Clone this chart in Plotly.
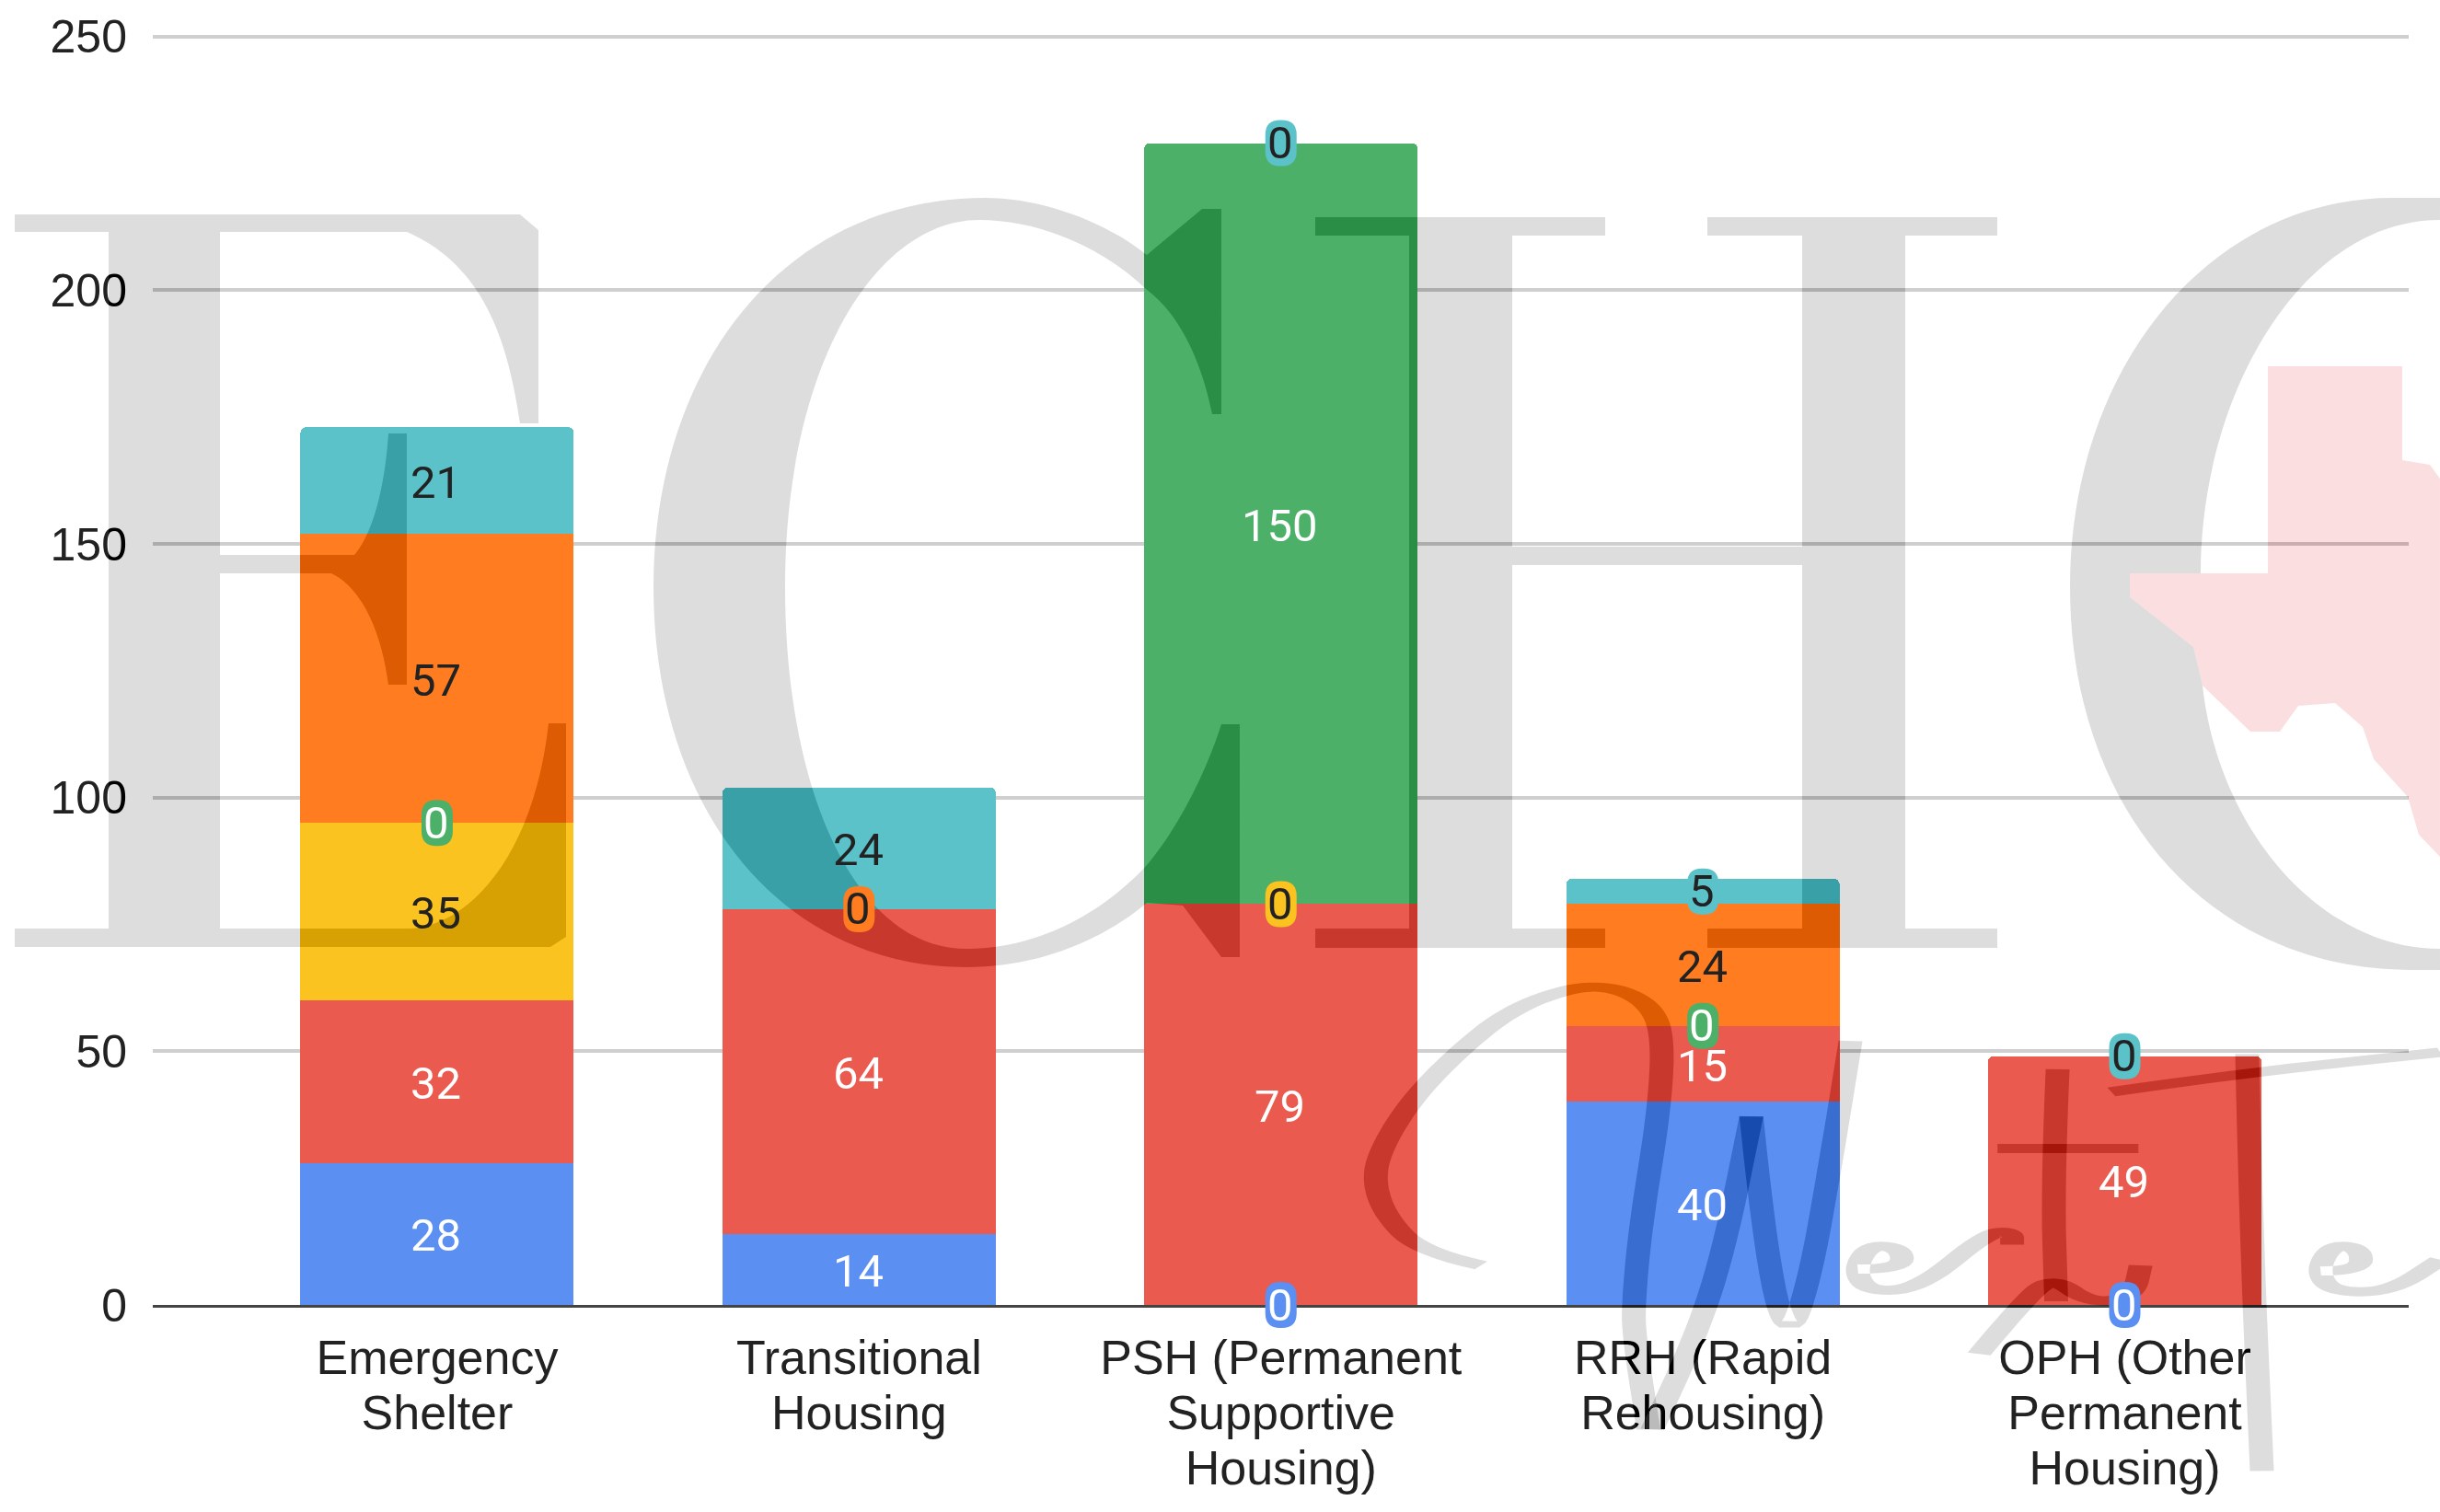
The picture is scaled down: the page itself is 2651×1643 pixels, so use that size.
import math
import re
import plotly.graph_objects as go

categories = ["Emergency<br>Shelter", "Transitional<br>Housing", "PSH (Permanent<br>Supportive<br>Housing)",
              "RRH (Rapid<br>Rehousing)", "OPH (Other<br>Permanent<br>Housing)"]
series_a = [28, 14, 0, 40, 0]
series_b = [32, 64, 79, 15, 49]
series_c = [35, 0, 0, 0, 0]
series_d = [0, 0, 150, 0, 0]
series_e = [57, 0, 0, 24, 0]
series_f = [21, 24, 0, 5, 0]
series_values = [series_a, series_b, series_c, series_d, series_e, series_f]
series_names = ["Series A", "Series B", "Series C", "Series D", "Series E", "Series F"]
series_colors = ["#5B8FF2", "#EA5A4E", "#FAC31F", "#4DB069", "#FF7D20", "#5CC2CA"]
label_colors = ["#FFFFFF", "#FFFFFF", "#222222", "#FFFFFF", "#222222", "#222222"]
y_ticks = [0, 50, 100, 150, 200, 250]

Y_RANGE = [0, 250.5]
X_RANGE = [-0.674, 4.673]
W, H = 2651, 1643
L, R, T, B = 166, 2617, 37, 1418
INK = "rgb(34,34,34)"
PINK = "rgb(4,32,31)"
TICK_SIZE = 52
LINE_SIZE = 46


def px(x, y):
    return (x - L) / (R - L), (B - y) / (B - T)


def to_paper(path):
    """Watermark outlines are traced in page pixels; shapes want paper fractions."""
    out = []
    for part in re.findall(r"[MLCQZ]|-?[\d.]+,-?[\d.]+", path):
        if "," in part:
            a, b = part.split(",")
            u, v = px(float(a), float(b))
            out.append(f"{u:.5f},{v:.5f}")
        else:
            out.append(part)
    return " ".join(out)


def z4(x, y):
    return x / 1.253 + 1400, y / 2.44 + 1000


def brush(points, a=13.0, b=5.0):
    """Stretched-script stroke: elliptical nib, wide across verticals and thin across horizontals."""
    pts = [z4(*p) for p in points]
    samples = [pts[0]]
    for i in range(1, len(pts) - 1):
        p0 = samples[-1]
        c = pts[i]
        e = ((pts[i][0] + pts[i + 1][0]) / 2, (pts[i][1] + pts[i + 1][1]) / 2)
        for k in range(1, 9):
            t = k / 8
            samples.append(((1 - t) ** 2 * p0[0] + 2 * t * (1 - t) * c[0] + t ** 2 * e[0],
                            (1 - t) ** 2 * p0[1] + 2 * t * (1 - t) * c[1] + t ** 2 * e[1]))
    samples.append(pts[-1])
    left, right = [], []
    for i, (x, y) in enumerate(samples):
        x0, y0 = samples[max(i - 1, 0)]
        x1, y1 = samples[min(i + 1, len(samples) - 1)]
        dx, dy = x1 - x0, y1 - y0
        n = math.hypot(dx, dy) or 1
        nx, ny = -dy / n, dx / n
        s = math.sqrt((a * nx) ** 2 + (b * ny) ** 2) or 1
        ox, oy = a * a * nx / s, b * b * ny / s
        left.append((x + ox, y + oy))
        right.append((x - ox, y - oy))
    ring = left + right[::-1]
    return "M" + " L".join(f"{x:.1f},{y:.1f}" for x, y in ring) + " Z"


letter_e = ("M16,233 L565,233 L585,250 L585,460 L565,460 C553,380 530,290 442,252 L239,252 L239,603 L385,603 "
            "C405,580 418,530 422,471 L442,471 L442,744 L422,744 C415,690 395,640 360,623 L239,623 L239,1009 "
            "L446,1009 C510,1005 580,930 596,786 L615,786 L615,1018 L598,1029 L16,1029 L16,1009 L118,1009 "
            "L118,252 L16,252 Z")
letter_c = ("M1327,227 L1327,450 L1317,450 C1305,390 1280,340 1246,315 C1200,270 1130,239 1064,239 "
            "C950,239 853,400 853,638 C853,860 930,1031 1050,1031 C1130,1031 1200,990 1246,940 "
            "C1280,900 1310,840 1327,787 L1347,787 L1347,1040 L1327,1040 L1285,984 L1246,981 "
            "C1200,1020 1130,1051 1050,1051 C850,1051 710,880 710,638 C710,400 850,215 1071,215 "
            "C1130,215 1200,240 1246,277 L1306,227 Z")
letter_h = ("M1429,236 L1744,236 L1744,256 L1643,256 L1643,594 L1958,594 L1958,256 L1855,256 L1855,236 "
            "L2170,236 L2170,256 L2070,256 L2070,1009 L2170,1009 L2170,1030 L1855,1030 L1855,1009 L1958,1009 "
            "L1958,614 L1643,614 L1643,1009 L1744,1009 L1744,1030 L1429,1030 L1429,1009 L1531,1009 L1531,256 "
            "L1429,256 Z")
letter_o = ("M2651,215 L2600,215 C2400,215 2249,400 2249,638 C2249,880 2400,1054 2620,1054 L2651,1054 "
            "L2651,1031 C2520,1031 2410,900 2393,745 L2383,703 L2314,649 L2314,623 L2391,623 "
            "C2391,430 2500,239 2651,239 Z")
texas = ("M2464,398 L2610,398 L2610,500 L2640,505 L2651,520 L2651,931 L2628,907 L2616,866 L2579,825 L2567,790 "
         "L2537,764 L2497,767 L2477,795 L2445,795 L2393,745 L2383,703 L2314,649 L2314,623 L2464,623 Z")

script_strokes = [
    [(262, 915), (180, 880), (130, 780), (115, 680), (130, 590), (170, 470), (230, 350), (300, 240), (380, 180),
     (440, 175), (490, 220), (510, 300), (505, 500), (480, 800), (470, 1000), (470, 1100), (490, 1350)],
    [(495, 1350), (545, 1150), (590, 900), (630, 520)],
    [(630, 520), (650, 900), (680, 1120), (710, 950), (740, 620), (765, 320)],
    [(775, 925), (835, 925), (835, 870), (790, 860), (770, 930), (790, 985), (860, 975), (950, 830), (985, 825),
     (985, 860)],
    [(1047, 395), (1040, 700), (1045, 1010)],
    [(965, 605), (1157, 605)],
    [(940, 1150), (1000, 1010), (1040, 945), (1090, 1015), (1150, 1000), (1160, 915)],
    [(1120, 455), (1300, 405), (1568, 350)],
    [(1305, 355), (1310, 800), (1325, 1460)],
    [(1405, 930), (1460, 930), (1460, 870), (1420, 860), (1400, 930), (1420, 985), (1500, 985), (1568, 900)],
]

fig = go.Figure()
for si, (name, vals, color) in enumerate(zip(series_names, series_values, series_colors)):
    marker = dict(color=color, line_width=0)
    if si == len(series_values) - 1:
        marker["cornerradius"] = 6
    fig.add_trace(go.Bar(x=categories, y=vals, name=name, marker=marker))

shapes = [dict(type="path", xref="paper", yref="paper", path=to_paper(texas), layer="above",
               fillcolor=PINK, line_width=0)]
for outline in [letter_e, letter_c, letter_h, letter_o]:
    shapes.append(dict(type="path", xref="paper", yref="paper", path=to_paper(outline), layer="above",
                       fillcolor=INK, line_width=0))
for pts in script_strokes:
    shapes.append(dict(type="path", xref="paper", yref="paper", path=to_paper(brush(pts)), layer="above",
                       fillcolor=INK, line_width=0))

# Labels: centred on each stacked segment; thin segments get a rounded chip in the series colour,
# and where several zero segments coincide only the topmost one shows.
annotations = []
for ci, cat in enumerate(categories):
    running = 0
    visible = {}
    for si, vals in enumerate(series_values):
        v = vals[ci]
        visible[running + v / 2] = (v, si)
        running += v
    for ypos, (v, si) in visible.items():
        if v <= 5:
            cx, cy = (ci - X_RANGE[0]) / (X_RANGE[1] - X_RANGE[0]), (ypos - Y_RANGE[0]) / (Y_RANGE[1] - Y_RANGE[0])
            cpx, cpy = L + cx * (R - L), B - cy * (B - T)
            hw, hh, r = 17, 25, 16
            d = (f"M{cpx-hw+r},{cpy-hh} L{cpx+hw-r},{cpy-hh} Q{cpx+hw},{cpy-hh} {cpx+hw},{cpy-hh+r} "
                 f"L{cpx+hw},{cpy+hh-r} Q{cpx+hw},{cpy+hh} {cpx+hw-r},{cpy+hh} L{cpx-hw+r},{cpy+hh} "
                 f"Q{cpx-hw},{cpy+hh} {cpx-hw},{cpy+hh-r} L{cpx-hw},{cpy-hh+r} Q{cpx-hw},{cpy-hh} {cpx-hw+r},{cpy-hh} Z")
            shapes.append(dict(type="path", xref="paper", yref="paper", path=to_paper(d), layer="above",
                               fillcolor=series_colors[si], line_width=0))
        annotations.append(dict(x=cat, y=ypos, xref="x", yref="y", text=str(v), showarrow=False,
                                xanchor="center", yanchor="middle", xshift=-1, yshift=-2 if v > 5 else 0,
                                font=dict(family="Roboto", size=49, color=label_colors[si])))

tick_text = ["<br>".join(f"<span style='font-size:{TICK_SIZE}px'>{line}</span>" for line in c.split("<br>"))
             for c in categories]

fig.update_layout(
    width=W, height=H, autosize=False,
    margin=dict(l=L, r=W - R, t=T, b=H - B, pad=0),
    barmode="stack", bargap=0.352,
    showlegend=False, paper_bgcolor="white", plot_bgcolor="white",
    font=dict(family="Liberation Sans, Arial", size=50, color="#222222"),
    xaxis=dict(type="category", range=X_RANGE, showgrid=False, zeroline=False,
               showline=True, linecolor="#444444", linewidth=3, layer="above traces",
               tickmode="array", tickvals=categories, ticktext=tick_text,
               ticks="outside", ticklen=17, tickcolor="rgba(0,0,0,0)",
               tickfont=dict(family="Liberation Sans, Arial", size=LINE_SIZE, color="#222222")),
    yaxis=dict(range=Y_RANGE, tickvals=y_ticks, showgrid=True, gridcolor="#CFCFCF", gridwidth=4,
               zeroline=False, showline=False, ticks="outside", ticklen=17, tickcolor="rgba(0,0,0,0)",
               tickfont=dict(family="Liberation Sans, Arial", size=50, color="#222222")),
    shapes=shapes, annotations=annotations,
)

blend = (
    "document.body.style.margin='0';"
    "var s=document.createElement('style');"
    "s.textContent='.shapelayer path[style*=\"rgb(34, 34, 34)\"],"
    ".shapelayer path[style*=\"rgb(4, 32, 31)\"]{mix-blend-mode:difference}';"
    "document.head.appendChild(s);"
)
fig.write_html("out.html", post_script=blend, config=dict(displayModeBar=False))
